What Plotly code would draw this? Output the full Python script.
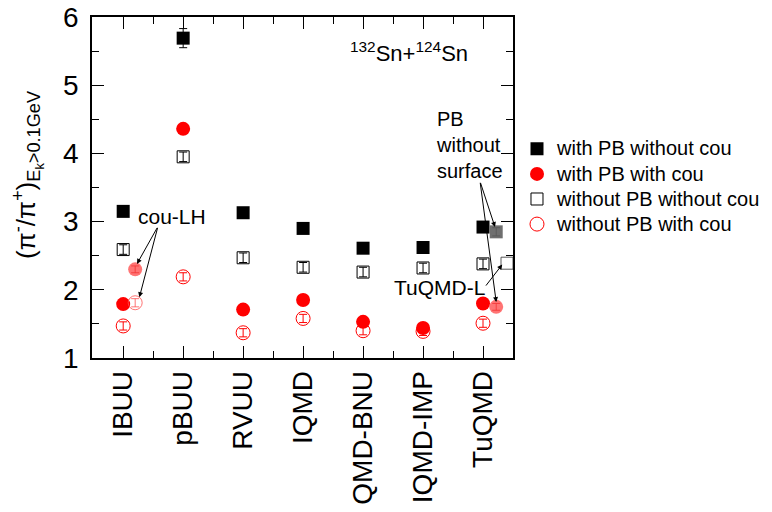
import plotly.graph_objects as go

models = ["IBUU", "pBUU", "RVUU", "IQMD", "IQMD-BNU", "IQMD-IMP", "TuQMD"]
xi = list(range(len(models)))

pb_nocou = [3.15, 5.69, 3.13, 2.90, 2.61, 2.62, 2.92]
pb_nocou_err = [0.03, 0.14, 0.03, 0.03, 0.03, 0.03, 0.03]
pb_cou = [1.79, 4.36, 1.71, 1.85, 1.53, 1.44, 1.80]
pb_cou_err = [0.04, 0.05, 0.04, 0.04, 0.04, 0.04, 0.04]
nopb_nocou = [2.59, 3.95, 2.47, 2.33, 2.26, 2.32, 2.38]
nopb_nocou_err = [0.07, 0.07, 0.07, 0.07, 0.07, 0.07, 0.07]
nopb_cou = [1.47, 2.19, 1.37, 1.58, 1.40, 1.39, 1.51]
nopb_cou_err = [0.06, 0.06, 0.06, 0.06, 0.06, 0.06, 0.06]

# extra variants
couLH_x = [0.2]
couLH_pb_cou = [2.30]
couLH_nopb_cou = [1.81]
tu_ns_x = [6.22]
tu_ns_pb_nocou = [2.85]
tu_ns_pb_cou = [1.75]
tuL_x = [6.4]
tuL_nopb_nocou = [2.39]

FONT = "Arial, Liberation Sans, sans-serif"

fig = go.Figure()

def err(v, c="black"):
    return dict(type="data", array=v, visible=True, thickness=1, width=4, color=c)

def lg(t):
    return '<span style="font-size:20px">' + t + '</span>'

fig.add_trace(go.Scatter(x=xi, y=nopb_nocou, mode="markers", name=lg("without PB without cou"),
                         marker=dict(symbol="square-open", size=12, color="black", line=dict(width=1)),
                         error_y=err(nopb_nocou_err), legendrank=3))
fig.add_trace(go.Scatter(x=xi, y=nopb_cou, mode="markers", name=lg("without PB with cou"),
                         marker=dict(symbol="circle-open", size=14, color="red", line=dict(width=1)),
                         error_y=err(nopb_cou_err, "red"), legendrank=4))
fig.add_trace(go.Scatter(x=xi, y=pb_nocou, mode="markers", name=lg("with PB without cou"),
                         marker=dict(symbol="square", size=13, color="black"),
                         error_y=err(pb_nocou_err), legendrank=1))
fig.add_trace(go.Scatter(x=xi, y=pb_cou, mode="markers", name=lg("with PB with cou"),
                         marker=dict(symbol="circle", size=14, color="red"),
                         error_y=err(pb_cou_err, "red"), legendrank=2))

# extra variants (no legend)
fig.add_trace(go.Scatter(x=couLH_x, y=couLH_pb_cou, mode="markers", showlegend=False,
                         marker=dict(symbol="circle", size=14, color="rgba(255,70,70,0.75)"),
                         error_y=err([0.05], "rgba(200,0,0,0.8)")))
fig.add_trace(go.Scatter(x=couLH_x, y=couLH_nopb_cou, mode="markers", showlegend=False,
                         marker=dict(symbol="circle-open", size=14, color="rgba(255,80,80,0.8)", line=dict(width=1)),
                         error_y=err([0.06], "rgba(255,80,80,0.8)")))
fig.add_trace(go.Scatter(x=tu_ns_x, y=tu_ns_pb_nocou, mode="markers", showlegend=False,
                         marker=dict(symbol="square", size=13, color="rgba(95,95,95,0.9)"),
                         error_y=err([0.06], "#222")))
fig.add_trace(go.Scatter(x=tu_ns_x, y=tu_ns_pb_cou, mode="markers", showlegend=False,
                         marker=dict(symbol="circle", size=14, color="rgba(255,70,70,0.75)"),
                         error_y=err([0.05], "rgba(200,0,0,0.8)")))
fig.add_trace(go.Scatter(x=tuL_x, y=tuL_nopb_nocou, mode="markers", showlegend=False,
                         marker=dict(symbol="square-open", size=12, color="rgba(70,70,70,0.9)", line=dict(width=1))))

annotations = [
    dict(x=4.77, y=5.49, xref="x", yref="y", showarrow=False,
         text="<sup>132</sup>Sn+<sup>124</sup>Sn", font=dict(size=22, family=FONT, color="black"),
         xanchor="center", yanchor="middle"),
    dict(x=0.22, y=3.08, xref="x", yref="y", showarrow=False, text="cou-LH",
         font=dict(size=21, family=FONT, color="black"), xanchor="left", yanchor="middle"),
    dict(x=5.18, y=4.13, xref="x", yref="y", showarrow=False, text="PB<br>without<br>surface",
         font=dict(size=20, family=FONT, color="black"), xanchor="left", yanchor="middle", align="left"),
    dict(x=6.07, y=2.04, xref="x", yref="y", showarrow=False, text="TuQMD-L",
         font=dict(size=21, family=FONT, color="black"), xanchor="right", yanchor="middle"),
    # y-axis title
    dict(x=0, y=0.537, xref="paper", yref="paper", xshift=-64, showarrow=False, textangle=-90,
         text="(π<sup>-</sup>/π<sup>+</sup>)<sub>E<sub>k</sub>>0.1GeV</sub>",
         font=dict(size=26, family=FONT, color="black"), xanchor="center", yanchor="middle"),
]
arrow_style = dict(showarrow=True, arrowhead=2, arrowsize=1, arrowwidth=1, arrowcolor="black",
                   text="", axref="x", ayref="y", xref="x", yref="y", standoff=0)
# cou-LH arrows
annotations.append(dict(x=0.23, y=2.38, ax=0.58, ay=2.93, **arrow_style))
annotations.append(dict(x=0.27, y=1.89, ax=0.58, ay=2.93, **arrow_style))
# PB without surface arrows
annotations.append(dict(x=6.2, y=2.92, ax=5.95, ay=3.59, **arrow_style))
annotations.append(dict(x=6.22, y=1.82, ax=5.95, ay=3.59, **arrow_style))
# TuQMD-L arrow
annotations.append(dict(x=6.32, y=2.37, ax=6.03, ay=2.04, **arrow_style))

# page body has an 8px default margin: size/margins compensate for it
fig.update_layout(
    width=756, height=496,
    margin=dict(l=84, r=251, t=9, b=146, autoexpand=False),
    paper_bgcolor="white", plot_bgcolor="white",
    font=dict(family=FONT, color="black"),
    showlegend=True,
    legend=dict(x=1.0095, y=0.665, xanchor="left", yanchor="top",
                font=dict(size=17, family=FONT, color="black"),
                bgcolor="rgba(0,0,0,0)", tracegroupgap=0),
    annotations=annotations,
)

fig.update_xaxes(
    range=[-0.52, 6.5], tickmode="array", tickvals=xi, ticktext=models,
    tickangle=-90, tickfont=dict(size=28, family=FONT, color="black"),
    ticks="inside", ticklen=12, tickwidth=1, tickcolor="black", ticklabelstandoff=0,
    ticklabeloverflow="allow",
    showline=True, linecolor="black", linewidth=1.5, mirror="ticks",
    showgrid=False, zeroline=False, automargin=False,
    minor=dict(tickvals=[i + 0.5 for i in xi[:-1]], ticks="inside", ticklen=7, tickcolor="black", showgrid=False),
)
fig.update_yaxes(
    range=[1, 6], tickmode="linear", tick0=1, dtick=1,
    tickfont=dict(size=28, family=FONT, color="black"),
    ticks="inside", ticklen=12, tickwidth=1, tickcolor="black", ticklabelstandoff=6,
    ticklabeloverflow="allow",
    showline=True, linecolor="black", linewidth=1.5, mirror="ticks",
    showgrid=False, zeroline=False, automargin=False,
    minor=dict(dtick=0.5, ticks="inside", ticklen=7, tickcolor="black", showgrid=False),
)

fig.write_html("out.html")
